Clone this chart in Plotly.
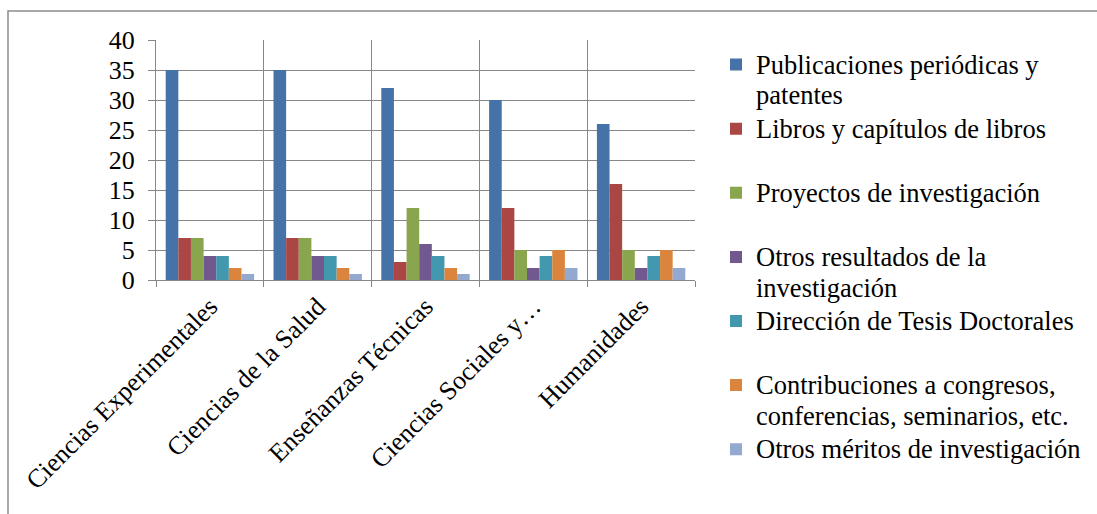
import plotly.graph_objects as go

categories = ["Ciencias Experimentales", "Ciencias de la Salud", "Enseñanzas Técnicas",
              "Ciencias Sociales y…", "Humanidades"]

series_names = [
    ["Publicaciones periódicas y", "patentes"],
    ["Libros y capítulos de libros"],
    ["Proyectos de investigación"],
    ["Otros resultados de la", "investigación"],
    ["Dirección de Tesis Doctorales"],
    ["Contribuciones a congresos,", "conferencias, seminarios, etc."],
    ["Otros méritos de investigación"],
]

publicaciones = [35, 35, 32, 30, 26]
libros = [7, 7, 3, 12, 16]
proyectos = [7, 7, 12, 5, 5]
otros_resultados = [4, 4, 6, 2, 2]
tesis = [4, 4, 4, 4, 4]
contribuciones = [2, 2, 2, 5, 5]
otros_meritos = [1, 1, 1, 2, 2]

series_values = [publicaciones, libros, proyectos, otros_resultados, tesis,
                 contribuciones, otros_meritos]
colors = ["#4572A7", "#AA4643", "#89A54E", "#71588F", "#4198AF", "#DB843D", "#93A9CF"]

y_ticks = [0, 5, 10, 15, 20, 25, 30, 35, 40]

FONT = "Liberation Serif"
GRID = "#878787"


def legend_label(lines):
    parts = [f'<span style="font-size:26.5px">{ln}</span>' for ln in lines]
    if len(parts) == 1:
        parts.append(" ")
    return "<br>".join(parts)


fig = go.Figure()
for name, vals, col in zip(series_names, series_values, colors):
    fig.add_trace(go.Bar(
        x=categories, y=vals, name=legend_label(name),
        marker=dict(color=col, line=dict(width=0)),
    ))

fig.update_layout(
    width=1097, height=514,
    margin=dict(l=156, r=402, t=40, b=234),
    paper_bgcolor="white", plot_bgcolor="white",
    barmode="group", bargap=0.18, bargroupgap=0,
    font=dict(family=FONT, size=26, color="black"),
    showlegend=True,
    legend=dict(
        x=0.6527, xref="container", xanchor="left",
        y=0.9167, yref="container", yanchor="top",
        font=dict(family=FONT, size=23.5, color="black"),
        valign="top", itemwidth=30, tracegroupgap=0,
        bgcolor="rgba(0,0,0,0)", maxheight=500,
    ),
    xaxis=dict(
        type="category", tickson="boundaries",
        showgrid=True, gridcolor=GRID, gridwidth=1,
        showline=True, linecolor=GRID, linewidth=1,
        ticks="outside", ticklen=6, tickcolor=GRID,
        tickangle=-45, tickfont=dict(family=FONT, size=26, color="black"),
        range=[-0.5, 4.5],
    ),
    yaxis=dict(
        range=[0, 40], tickvals=y_ticks, ticktext=[str(v) for v in y_ticks],
        showgrid=True, gridcolor=GRID, gridwidth=1,
        showline=True, linecolor=GRID, linewidth=1,
        ticks="outside", ticklen=7, tickcolor=GRID, ticklabelstandoff=8,
        tickfont=dict(family=FONT, size=26, color="black"),
        zeroline=False,
    ),
    shapes=[dict(
        type="rect", xref="paper", yref="paper",
        x0=-0.2746, x1=1.76, y0=-1.05, y1=1.1208,
        line=dict(color="#8c8c8c", width=1.5), fillcolor="rgba(0,0,0,0)",
        layer="below",
    )],
)

fig.write_html("out.html")
